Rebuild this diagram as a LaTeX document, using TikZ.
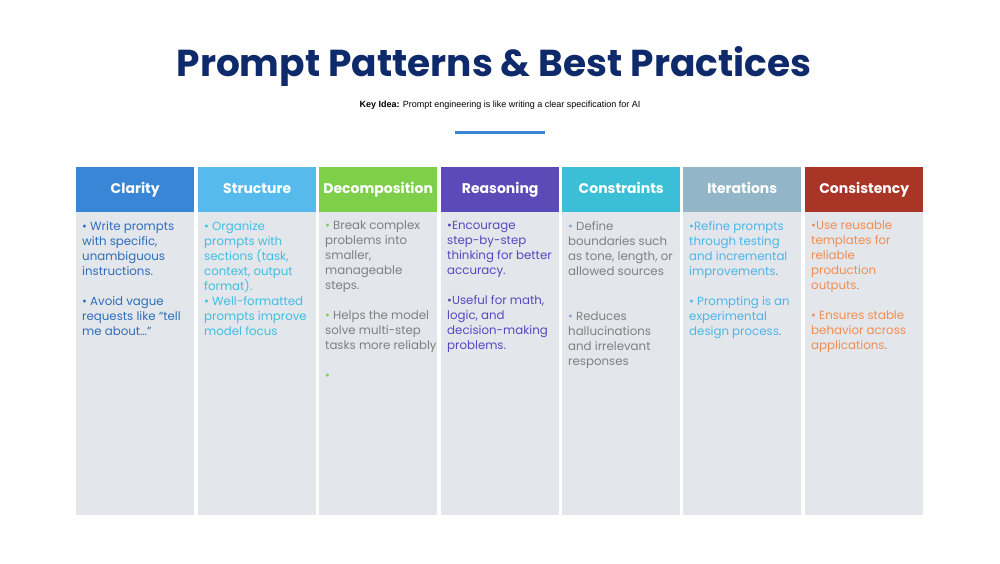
\documentclass[tikz,border=0pt]{standalone}
\usepackage{fontspec}
\setmainfont{Poppins}
\newfontfamily\arialf{Liberation Sans}
\definecolor{navy}{HTML}{0E2A6B}
\definecolor{bodybg}{HTML}{E3E7EC}
\definecolor{gtxt}{HTML}{7F7F7F}
\definecolor{cA}{HTML}{3A86D6}\definecolor{tA}{HTML}{2F6DB8}
\definecolor{cB}{HTML}{56BBEC}\definecolor{tB}{HTML}{3EBEE0}
\definecolor{cC}{HTML}{7ECF4A}
\definecolor{cD}{HTML}{5B4AB8}\definecolor{tD}{HTML}{5A46BE}
\definecolor{cE}{HTML}{3BBFD6}\definecolor{bE}{HTML}{8FA3D6}
\definecolor{cF}{HTML}{93B5C8}\definecolor{tF}{HTML}{4DB4E6}
\definecolor{cG}{HTML}{A93526}\definecolor{tG}{HTML}{F28C50}
\tikzset{
 hdr/.style={minimum width=118pt,minimum height=45pt,inner sep=0pt,anchor=north west,text=white,text height=10pt,text depth=3pt,font=\fontsize{14}{16}\selectfont\bfseries},
 txt/.style={anchor=north west,align=left,inner sep=0pt,font=\fontsize{11.8}{15}\selectfont}
}
\begin{document}
\begin{tikzpicture}[x=1pt,y=-1pt]
\useasboundingbox[fill=white] (0,0) rectangle (1000,563);
\node[text=navy,font=\fontsize{37.5}{42}\selectfont\bfseries] (title) at (494,66) {Prompt Patterns \& Best Practices};
\node[font=\arialf\fontsize{9}{11}\selectfont] (key) at (500,105) {\textbf{Key Idea:} Prompt engineering is like writing a clear specification for AI};
\draw[cA,line width=3pt] (455,132) -- (545,132);
\foreach \x/\c/\t/\n [count=\i] in {76/cA/Clarity/a,198/cB/Structure/b,319/cC/Decomposition/c,441/cD/Reasoning/d,562/cE/Constraints/e,683/cF/Iterations/f,805/cG/Consistency/g}{
 \fill[bodybg] (\x,212) rectangle ++(118,303);
 \node[hdr,fill=\c] (h\n) at (\x,167) {\t};
}
\node[txt,text=tA] (ta) at (82,221) {{\color{tA}•} Write prompts\\with specific,\\unambiguous\\instructions.\\[15pt]• Avoid vague\\requests like “tell\\me about…”};
\node[txt,text=tB] (tb) at (204,221) {• Organize\\prompts with\\sections (task,\\context, output\\format).\\• Well-formatted\\prompts improve\\model focus};
\node[txt,text=gtxt] (tc) at (325,221) {{\color{cC}•} Break complex\\problems into\\smaller,\\manageable\\steps.\\[15pt]{\color{cC}•} Helps the model\\solve multi-step\\tasks more reliably\\[15pt]{\color{cC}•}};
\node[txt,text=tD] (td) at (447,221) {•Encourage\\step-by-step\\thinking for better\\accuracy.\\[15pt]•Useful for math,\\logic, and\\decision-making\\problems.};
\node[txt,text=gtxt] (te) at (568,221) {{\color{bE}•} Define\\boundaries such\\as tone, length, or\\allowed sources\\[30pt]{\color{bE}•} Reduces\\hallucinations\\and irrelevant\\responses};
\node[txt,text=tF] (tf) at (689,221) {•Refine prompts\\through testing\\and incremental\\improvements{\color{gtxt}.}\\[15pt]• Prompting is an\\experimental\\design process{\color{gtxt}.}};
\node[txt,text=tG] (tg) at (811,221) {•Use reusable\\templates for\\reliable\\production\\outputs{\color{gtxt}.}\\[15pt]• Ensures stable\\behavior across\\applications{\color{gtxt}.}};
\end{tikzpicture}
\end{document}
